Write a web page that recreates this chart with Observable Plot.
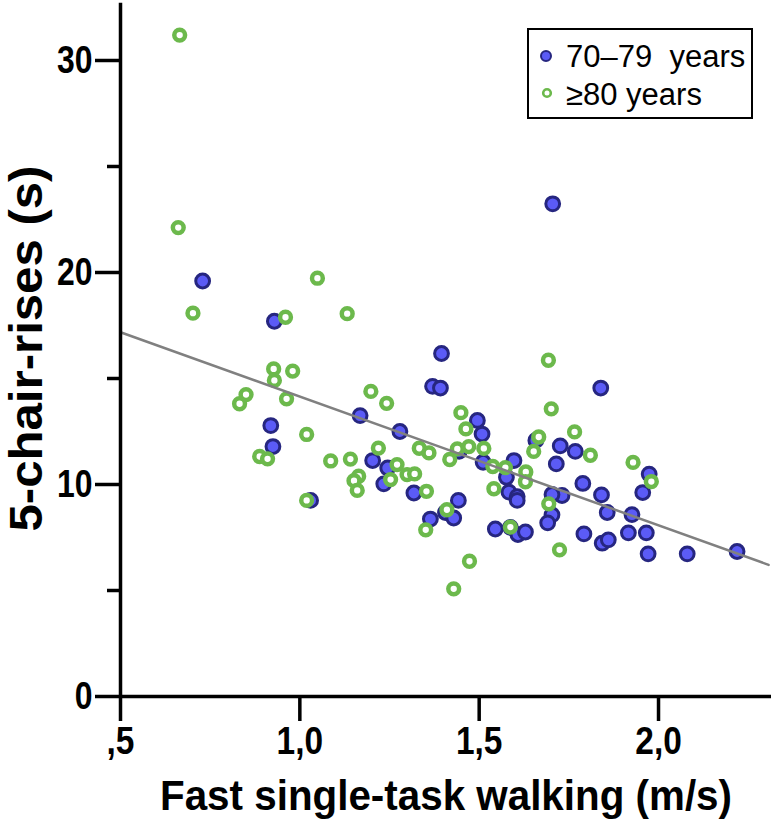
<!DOCTYPE html>
<html>
<head>
<meta charset="utf-8">
<script src="https://cdn.jsdelivr.net/npm/d3@7"></script>
<script src="https://cdn.jsdelivr.net/npm/@observablehq/plot@0.6"></script>
<style>
  body { margin: 0; background: white; }
  #wrap { position: relative; width: 771px; height: 828px; }
  #legend { position: absolute; left: 527px; top: 28px; width: 222px; height: 87px;
            border: 2px solid #000; background: white;
            font-family: "Liberation Sans", Arial, sans-serif; font-size: 31px; color: #000; }
  .item { position: absolute; left: 0; white-space: pre; line-height: 1; }
  .item svg { position: absolute; left: 7px; }
  .item span { position: absolute; left: 37px; }
</style>
</head>
<body>
<div id="wrap"></div>
<script>
// 70–79 years
const youngX = [0.729,0.929,0.919,0.925,1.030,1.168,1.279,1.203,1.245,1.234,1.318,1.395,1.370,1.392,1.495,1.508,1.444,1.511,1.597,1.576,1.583,1.606,1.606,1.442,1.406,1.364,1.429,1.545,1.587,1.608,1.629,1.658,1.726,1.768,1.715,1.839,1.789,1.841,1.731,1.703,1.703,1.691,1.857,1.926,1.792,1.843,1.860,1.916,1.966,1.956,1.974,1.971,2.080,2.219,1.705];
const youngY = [19.6,17.7,12.78,11.79,9.25,13.25,12.5,11.13,10.78,10.03,9.6,16.18,14.63,14.55,13.02,12.38,11.56,11.05,11.13,10.34,9.64,9.43,9.25,9.25,8.68,8.37,8.42,7.90,7.98,7.64,7.76,12.08,11.82,11.56,10.97,14.55,10.05,9.51,9.48,9.53,8.57,8.19,8.68,8.58,7.67,7.23,7.39,7.72,7.72,9.62,10.49,6.73,6.73,6.84,23.24];
// ≥80 years
const oldX = [0.665,0.661,0.702,0.960,1.049,1.132,0.927,0.980,0.929,0.850,0.832,0.963,1.019,0.888,0.910,1.019,1.198,1.242,1.219,1.086,1.141,1.271,1.164,1.151,1.160,1.253,1.299,1.320,1.333,1.360,1.353,1.351,1.449,1.463,1.418,1.439,1.471,1.513,1.538,1.573,1.541,1.410,1.587,1.473,1.429,1.630,1.629,1.652,1.666,1.693,1.701,1.766,1.810,1.694,1.724,1.929,1.980];
const oldY = [31.2,22.12,18.08,17.89,19.73,18.06,15.45,15.35,14.91,14.24,13.81,14.04,12.36,11.32,11.21,9.25,14.39,13.83,11.72,11.11,11.2,10.94,10.39,10.18,9.72,10.23,10.47,10.5,11.71,11.49,9.68,7.86,13.39,12.62,11.18,11.68,11.79,11.7,10.85,10.8,9.8,8.81,7.99,6.38,5.08,10.59,10.13,11.56,12.24,15.86,13.57,12.48,11.38,9.09,6.92,11.04,10.14];
// fit line
const fitX = [0.5, 2.307];
const fitY = [17.18, 6.21];
// axes
const xDomain = [0.5, 2.315];
const yDomain = [0, 32.83];
const yAxisTop = 32.7;
const xTicks = [0.5, 1.0, 1.5, 2.0];
const xTickLabels = [",5", "1,0", "1,5", "2,0"];
const yMajorTicks = [0, 10, 20, 30];
const yMinorTicks = [5, 15, 25];
const xLabel = "Fast single-task walking (m/s)";
const yLabel = "5-chair-rises (s)";
const seriesNames = ["70\u201379  years", "\u226580 years"];

const young = youngX.map((x, i) => ({x, y: youngY[i]}));
const old = oldX.map((x, i) => ({x, y: oldY[i]}));
const fit = fitX.map((x, i) => ({x, y: fitY[i]}));

const blueFill = "#5b5bf6", blueStroke = "#262680", green = "#6cb94c";

const chart = Plot.plot({
  width: 771, height: 828,
  marginLeft: 120, marginRight: 0, marginTop: 0, marginBottom: 132,
  x: {domain: xDomain},
  y: {domain: yDomain},
  style: {fontFamily: "'Liberation Sans', Arial, sans-serif", background: "white", color: "black", overflow: "visible"},
  marks: [
    Plot.dot(young, {x: "x", y: "y", r: 6.9, fill: blueFill, stroke: blueStroke, strokeWidth: 3}),
    Plot.dot(old, {x: "x", y: "y", r: 5.4, fill: "white", stroke: green, strokeWidth: 4.5}),
    Plot.line(fit, {x: "x", y: "y", stroke: "#808080", strokeWidth: 2.5}),
    Plot.ruleX([xDomain[0]], {y1: 0, y2: yAxisTop, strokeWidth: 3.5}),
    Plot.ruleY([0], {strokeWidth: 3.5}),
    Plot.axisY(yMajorTicks, {tickSize: 25, tickPadding: 3, strokeWidth: 3.5, fontSize: 38, fontWeight: "bold",
      tickFormat: d => String(d), label: yLabel, labelAnchor: "center", labelOffset: 111, labelArrow: "none"}),
    Plot.axisY(yMinorTicks, {tickSize: 13, strokeWidth: 3.5, tickFormat: () => "", label: null}),
    Plot.axisX(xTicks, {tickSize: 25, tickPadding: 6, strokeWidth: 3.5, fontSize: 38, fontWeight: "bold",
      tickFormat: d => xTickLabels[xTicks.indexOf(d)], label: xLabel, labelAnchor: "center", labelOffset: 113, labelArrow: "none"})
  ]
});
const wrap = document.getElementById("wrap");
wrap.appendChild(chart);

// condensed bold look of the original typeface
function fit1(sel, size, length, squeeze) {
  chart.querySelectorAll(sel).forEach(t => {
    if (!t.textContent) return;
    t.style.fontSize = size + "px";
    const w = length != null ? length : t.getComputedTextLength() * squeeze;
    t.setAttribute("textLength", w);
    t.setAttribute("lengthAdjust", "spacingAndGlyphs");
  });
}
fit1('g[aria-label="y-axis tick label"] text', 38, null, 0.84);
fit1('g[aria-label="x-axis tick label"] text', 38, null, 0.88);
fit1('g[aria-label="x-axis label"] text', 43, 572);
fit1('g[aria-label="y-axis label"] text', 46, 366);

const legend = document.createElement("div");
legend.id = "legend";
legend.innerHTML = `
  <div class="item" style="top:11px"><svg width="22" height="22" style="top:4px"><circle cx="10" cy="11" r="5" fill="${blueFill}" stroke="${blueStroke}" stroke-width="2"/></svg><span>${seriesNames[0]}</span></div>
  <div class="item" style="top:49px"><svg width="22" height="22" style="top:3px"><circle cx="11" cy="11" r="3.8" fill="white" stroke="${green}" stroke-width="2.6"/></svg><span>${seriesNames[1]}</span></div>`;
wrap.appendChild(legend);
</script>
</body>
</html>
